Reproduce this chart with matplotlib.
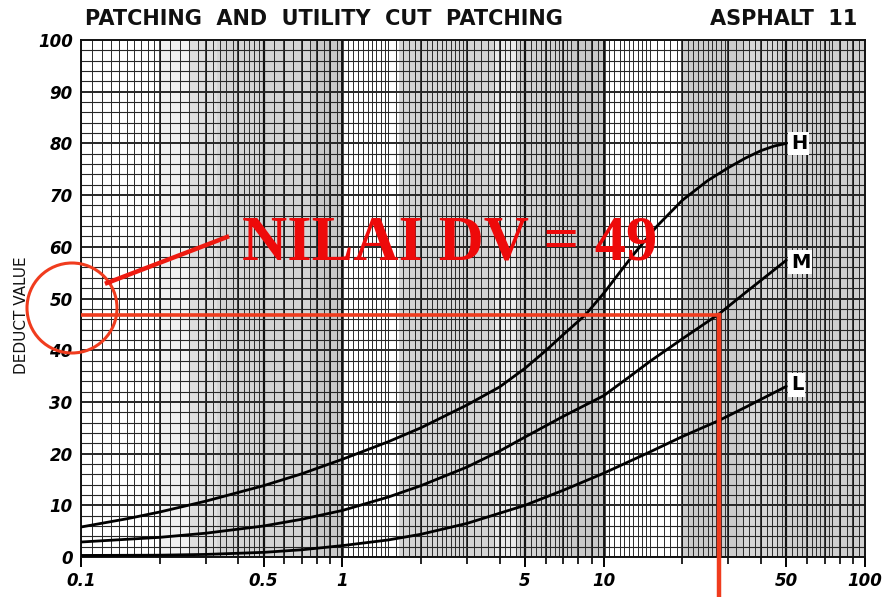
import numpy as np
import matplotlib
matplotlib.use("Agg")
import matplotlib.pyplot as plt
from matplotlib.patches import Circle
from matplotlib.lines import Line2D

# ---- data ----
h_x = [0.1, 0.15, 0.2, 0.3, 0.5, 0.7, 1, 1.5, 2, 3, 4, 5, 6, 7, 8.5, 10, 11.5, 13, 16, 20, 25, 30, 35, 40, 45, 50]
h_y = [5.8, 7.4, 8.7, 10.8, 13.8, 16.1, 18.9, 22.3, 25.0, 29.4, 32.9, 36.5, 39.9, 43.0, 46.8, 51.0, 55.0, 58.5, 64.0, 69.0, 72.8, 75.3, 77.2, 78.6, 79.5, 80.0]

m_x = [0.1, 0.2, 0.3, 0.5, 0.7, 1, 1.5, 2, 3, 4, 5, 7, 10, 12.5, 15, 20, 27.6, 35, 50]
m_y = [2.9, 3.8, 4.6, 6.0, 7.3, 9.0, 11.6, 13.8, 17.4, 20.5, 23.2, 27.2, 31.2, 34.8, 37.8, 42.2, 47.0, 51.2, 57.4]

l_x = [0.1, 0.2, 0.3, 0.5, 0.7, 1, 1.5, 2, 3, 5, 7, 10, 15, 20, 27.6, 35, 50]
l_y = [0.3, 0.35, 0.5, 0.9, 1.4, 2.2, 3.3, 4.4, 6.5, 10.0, 12.9, 16.2, 20.3, 23.3, 26.4, 29.0, 33.0]

curve_labels = ["H", "M", "L"]
label_pos_y = [80, 57, 33.3]

x_ticklabels = ["0.1", "0.5", "1", "5", "10", "50", "100"]
x_tickvals = [0.1, 0.5, 1, 5, 10, 50, 100]
y_tickvals = list(range(0, 101, 10))

dv_density = 27.6
dv_value = 46.8

title_left = "PATCHING  AND  UTILITY  CUT  PATCHING"
title_right = "ASPHALT  11"
ylabel = "DEDUCT VALUE"
annot = "NILAI DV = 49"

# ---- figure ----
W, H = 885, 597
fig = plt.figure(figsize=(W / 100, H / 100), dpi=100)
ax = fig.add_axes([81 / W, 1 - 557 / H, (865 - 81) / W, (557 - 40) / H])
ax.set_xscale("log")
ax.set_xlim(0.1, 100)
ax.set_ylim(0, 100)

# shaded bands of the graph paper (decorative)
bands = [(0.2, 0.26, 0.10), (0.26, 0.33, 0.24), (0.33, 0.75, 0.32), (0.75, 1.0, 0.40),
         (1.65, 3.8, 0.32), (3.8, 4.6, 0.15), (4.6, 7.5, 0.34), (7.5, 10, 0.40),
         (20, 34, 0.38), (34, 46, 0.30), (46, 100, 0.36)]
for x0, x1, a in bands:
    ax.axvspan(x0, x1, color="#7a7a7a", alpha=a, lw=0, zorder=0)

# vertical grid
vx = list(np.arange(1.0, 2.0, 0.1) * 0.1) + list(np.arange(2.0, 5.0, 0.2) * 0.1) \
    + list(np.arange(5.0, 10.0, 0.5) * 0.1)
for d in [1, 10]:
    vx += list(np.arange(1.0, 1.5, 0.05) * d)
    vx += list(np.arange(1.5, 2.0, 0.1) * d)
    vx += list(np.arange(2.0, 3.0, 0.1) * d)
    vx += list(np.arange(3.0, 5.0, 0.2) * d)
    vx += list(np.arange(5.0, 7.5, 0.25) * d)
    vx += list(np.arange(7.5, 10.0, 0.5) * d)
for v in vx:
    ax.axvline(v, color="#2a2a2a", lw=0.7, zorder=1)
for d in [0.1, 1, 10]:
    for k in range(1, 10):
        ax.axvline(k * d, color="#111111", lw=1.1 if k != 5 else 1.6, zorder=1)
for v in [1, 10]:
    ax.axvline(v, color="#111111", lw=1.8, zorder=1)

# horizontal grid
for yv in range(0, 101, 2):
    ax.axhline(yv, color="#262626", lw=0.8 if yv % 10 else 1.4, zorder=1)

# curves
for xs, ys in [(h_x, h_y), (m_x, m_y), (l_x, l_y)]:
    ax.plot(xs, ys, color="black", lw=2.0, zorder=4, solid_capstyle="round",
            solid_joinstyle="round")

for lab, yy in zip(curve_labels, label_pos_y):
    ax.text(52, yy, lab, fontsize=14, fontweight="bold", ha="left", va="center",
            color="black", zorder=5,
            bbox=dict(boxstyle="square,pad=0.12", fc="white", ec="none"))

# ticks
ax.set_xticks(x_tickvals)
ax.set_xticklabels(x_ticklabels)
minor = [k * d for d in [0.1, 1, 10] for k in range(2, 10) if k != 5]
ax.set_xticks(minor, minor=True)
ax.xaxis.set_minor_formatter(matplotlib.ticker.NullFormatter())
ax.tick_params(axis="x", which="major", length=7, width=1.4, direction="out",
               labelsize=12, pad=4)
ax.tick_params(axis="x", which="minor", length=5, width=1.2, direction="out")
ax.set_yticks(y_tickvals)
ax.tick_params(axis="y", which="major", length=0, labelsize=12, pad=6)
for t in ax.get_xticklabels() + ax.get_yticklabels():
    t.set_fontstyle("italic")
    t.set_fontweight("bold")
for sp in ax.spines.values():
    sp.set_linewidth(1.4)
    sp.set_color("#111111")

# titles
fig.text(85 / W, 1 - 19 / H, title_left, fontsize=15, fontweight="bold",
         ha="left", va="center", color="#111111")
fig.text(857 / W, 1 - 19 / H, title_right, fontsize=15, fontweight="bold",
         ha="right", va="center", color="#111111")
fig.text(22 / W, 1 - 315 / H, ylabel, fontsize=11, rotation=90,
         ha="center", va="center", color="#111111", fontweight="medium")

# red annotation
red = "#f03c1e"
ax.plot([0.1, dv_density], [dv_value, dv_value], color=red, lw=2.6, zorder=6)
ax.plot([dv_density, dv_density], [dv_value, -10], color=red, lw=3.2, zorder=6,
        clip_on=False)

tr = fig.dpi_scale_trans
fig.add_artist(Circle((72 / 100, (H - 308) / 100), 0.45, transform=tr,
                      fill=False, ec=red, lw=2.2, zorder=7))
fig.add_artist(Line2D([107 / 100, 227 / 100], [(H - 283) / 100, (H - 237) / 100],
                      transform=tr, color="#ee1a10", lw=3.2, zorder=7))
fig.text(242 / W, 1 - 260 / H, annot, fontsize=45, fontweight="bold",
         family="Liberation Serif", color="#ee0a0a", ha="left", va="baseline",
         zorder=8)

fig.savefig("out.png", dpi=100, facecolor="white")
